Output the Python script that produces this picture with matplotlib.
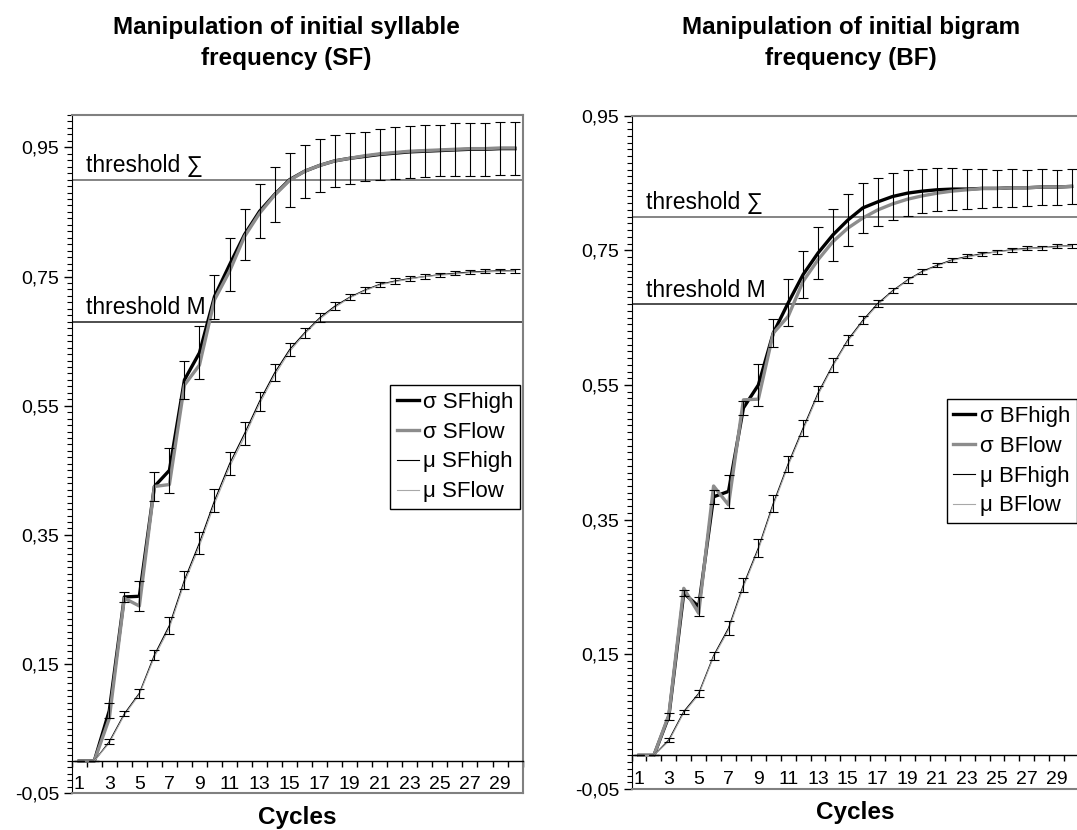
import numpy as np
import matplotlib
matplotlib.use('Agg')
import matplotlib.pyplot as plt
from matplotlib.ticker import FixedLocator, MultipleLocator, FuncFormatter

plt.rcParams['font.family'] = ['Liberation Sans', 'DejaVu Sans']

cycles = np.arange(1, 31)
x_label_cycles = cycles[::2]  # 1, 3, ..., 29
y_ticks = [-0.05, 0.15, 0.35, 0.55, 0.75, 0.95]

# syllable frequency (left panel)
sf_sigma_high = [0, 0, 0.078, 0.254, 0.255, 0.425, 0.450, 0.590, 0.632, 0.719, 0.768, 0.815, 0.851, 0.877, 0.900,
                 0.913, 0.922, 0.929, 0.933, 0.936, 0.939, 0.941, 0.943, 0.944, 0.945, 0.946, 0.947, 0.947, 0.948, 0.948]
sf_sigma_low = [0, 0, 0.066, 0.252, 0.240, 0.425, 0.428, 0.582, 0.613, 0.714, 0.758, 0.812, 0.848, 0.876, 0.899,
                0.913, 0.922, 0.929, 0.933, 0.937, 0.940, 0.942, 0.944, 0.945, 0.946, 0.947, 0.948, 0.948, 0.949, 0.949]
sf_sigma_err = [0, 0, 0.012, 0.008, 0.023, 0.022, 0.035, 0.030, 0.041, 0.034, 0.041, 0.039, 0.042, 0.042, 0.042,
                0.041, 0.041, 0.040, 0.039, 0.038, 0.039, 0.040, 0.040, 0.040, 0.040, 0.041, 0.041, 0.041, 0.041, 0.041]
sf_mu_high = [0, 0, 0.030, 0.073, 0.105, 0.164, 0.210, 0.280, 0.338, 0.403, 0.460, 0.507, 0.557, 0.601, 0.637,
              0.663, 0.686, 0.704, 0.718, 0.729, 0.738, 0.743, 0.747, 0.750, 0.753, 0.755, 0.757, 0.758, 0.759, 0.759]
sf_mu_low = [0, 0, 0.028, 0.071, 0.103, 0.161, 0.206, 0.276, 0.333, 0.398, 0.455, 0.502, 0.553, 0.597, 0.634,
             0.661, 0.684, 0.702, 0.717, 0.728, 0.737, 0.742, 0.746, 0.750, 0.752, 0.754, 0.756, 0.757, 0.758, 0.759]
sf_mu_err = [0, 0, 0.004, 0.004, 0.007, 0.008, 0.013, 0.014, 0.017, 0.018, 0.018, 0.018, 0.015, 0.013, 0.010,
             0.008, 0.007, 0.006, 0.005, 0.005, 0.004, 0.004, 0.004, 0.004, 0.003, 0.003, 0.003, 0.003, 0.003, 0.003]
sf_thresholds = [0.90, 0.68]

# bigram frequency (right panel)
bf_sigma_high = [0, 0, 0.058, 0.241, 0.221, 0.384, 0.392, 0.516, 0.550, 0.627, 0.672, 0.714, 0.746, 0.773, 0.795,
                 0.813, 0.822, 0.830, 0.835, 0.838, 0.840, 0.841, 0.841, 0.842, 0.842, 0.843, 0.843, 0.844, 0.844, 0.845]
bf_sigma_low = [0, 0, 0.060, 0.248, 0.211, 0.400, 0.372, 0.528, 0.529, 0.627, 0.652, 0.704, 0.736, 0.763, 0.783,
                0.798, 0.810, 0.819, 0.826, 0.831, 0.835, 0.838, 0.840, 0.842, 0.842, 0.843, 0.843, 0.844, 0.844, 0.845]
bf_sigma_err = [0, 0, 0.005, 0.005, 0.014, 0.010, 0.024, 0.011, 0.031, 0.021, 0.035, 0.035, 0.038, 0.039, 0.038,
                0.037, 0.036, 0.035, 0.034, 0.033, 0.032, 0.031, 0.030, 0.029, 0.028, 0.028, 0.027, 0.027, 0.026, 0.026]
bf_mu_high = [0, 0, 0.023, 0.065, 0.092, 0.148, 0.189, 0.253, 0.308, 0.374, 0.433, 0.486, 0.538, 0.580, 0.617,
              0.646, 0.671, 0.690, 0.706, 0.719, 0.728, 0.736, 0.741, 0.745, 0.748, 0.751, 0.753, 0.754, 0.756, 0.757]
bf_mu_low = [0, 0, 0.021, 0.063, 0.090, 0.146, 0.186, 0.250, 0.305, 0.371, 0.430, 0.483, 0.535, 0.578, 0.615,
             0.644, 0.669, 0.689, 0.705, 0.718, 0.727, 0.735, 0.740, 0.744, 0.748, 0.750, 0.752, 0.754, 0.755, 0.757]
bf_mu_err = [0, 0, 0.003, 0.003, 0.005, 0.006, 0.010, 0.010, 0.013, 0.012, 0.012, 0.012, 0.011, 0.010, 0.008,
             0.006, 0.005, 0.004, 0.004, 0.004, 0.003, 0.003, 0.003, 0.003, 0.003, 0.003, 0.003, 0.003, 0.003, 0.003]
bf_thresholds = [0.80, 0.67]


def draw_panel(ax, tag, sig_hi, sig_lo, sig_err, mu_hi, mu_lo, mu_err, thresholds, y_top, legend_anchor):
    ax.set_xlim(0.5, 30.5)
    ax.set_ylim(-0.05, y_top)

    # thresholds
    for thr, name, col in zip(thresholds, ['threshold \u2211', 'threshold M'], ['#707070', '#303030']):
        ax.axhline(thr, color=col, lw=1.2, zorder=1)
        ax.annotate(name, xy=(1.45, thr), xytext=(0, 5.5), textcoords='offset points',
                    fontsize=16.5, va='baseline', ha='left')

    l1, = ax.plot(cycles, sig_hi, color='black', lw=2.4, zorder=3)
    l2, = ax.plot(cycles, sig_lo, color='#8c8c8c', lw=2.4, zorder=3)
    l3, = ax.plot(cycles, mu_hi, color='black', lw=0.8, zorder=3)
    l4, = ax.plot(cycles, mu_lo, color='#a8a8a8', lw=0.8, zorder=3)
    ax.errorbar(cycles, sig_hi, yerr=sig_err, fmt='none', ecolor='black', elinewidth=0.8,
                capsize=3.5, capthick=0.8, zorder=4)
    ax.errorbar(cycles, mu_hi, yerr=mu_err, fmt='none', ecolor='black', elinewidth=0.8,
                capsize=3.5, capthick=0.8, zorder=4)

    leg = ax.legend([l1, l2, l3, l4],
                    ['\u03c3 ' + tag + 'high', '\u03c3 ' + tag + 'low', '\u03bc ' + tag + 'high', '\u03bc ' + tag + 'low'],
                    loc='upper left', bbox_to_anchor=legend_anchor, fontsize=16, frameon=True, fancybox=False,
                    edgecolor='black', framealpha=1, handlelength=1.0, handletextpad=0.2,
                    labelspacing=0.4, borderpad=0.3, borderaxespad=0)
    leg.get_frame().set_linewidth(1.0)

    # x axis crosses at 0, ticks between categories
    ax.spines['bottom'].set_position(('data', 0))
    ax.spines['bottom'].set_linewidth(1.0)
    ax.xaxis.set_major_locator(FixedLocator(x_label_cycles))
    ax.xaxis.set_minor_locator(FixedLocator(np.arange(0.5, 31, 1)))
    ax.tick_params(axis='x', which='major', length=0, pad=11, labelsize=14)
    ax.tick_params(axis='x', which='minor', length=4, width=1, direction='out')
    ax.axhline(-0.05, color='#808080', lw=1.5, clip_on=False, zorder=5)

    ax.yaxis.set_major_locator(FixedLocator(y_ticks))
    ax.yaxis.set_minor_locator(MultipleLocator(0.01))
    ax.yaxis.set_major_formatter(FuncFormatter(lambda v, p: f'{v:.2f}'.replace('.', ',')))
    ax.tick_params(axis='y', which='major', length=6, width=1, labelsize=14, pad=3)
    ax.tick_params(axis='y', which='minor', length=3.5, width=0.8)

    for side in ['top', 'right']:
        ax.spines[side].set_color('#808080')
        ax.spines[side].set_linewidth(1.5)

    ax.text(0.5, -0.035, 'Cycles', transform=ax.transAxes, ha='center', va='center',
            fontsize=17.5, fontweight='bold')


fig = plt.figure(figsize=(10.77, 8.30), dpi=100)
ax1 = fig.add_axes([0.0666, 0.0442, 0.4186, 0.8172])
ax2 = fig.add_axes([0.5864, 0.0494, 0.4155, 0.8112])

draw_panel(ax1, 'SF', sf_sigma_high, sf_sigma_low, sf_sigma_err, sf_mu_high, sf_mu_low, sf_mu_err,
           sf_thresholds, 1.0, (0.706, 0.602))
draw_panel(ax2, 'BF', bf_sigma_high, bf_sigma_low, bf_sigma_err, bf_mu_high, bf_mu_low, bf_mu_err,
           bf_thresholds, 0.95, (0.704, 0.579))

fig.text(286 / 1077, 1 - 43 / 830, 'Manipulation of initial syllable\nfrequency (SF)', ha='center', va='center',
         fontsize=17.5, fontweight='bold', linespacing=1.45)
fig.text(851 / 1077, 1 - 43 / 830, 'Manipulation of initial bigram\nfrequency (BF)', ha='center', va='center',
         fontsize=17.5, fontweight='bold', linespacing=1.45)

fig.savefig('out.png', dpi=100)
